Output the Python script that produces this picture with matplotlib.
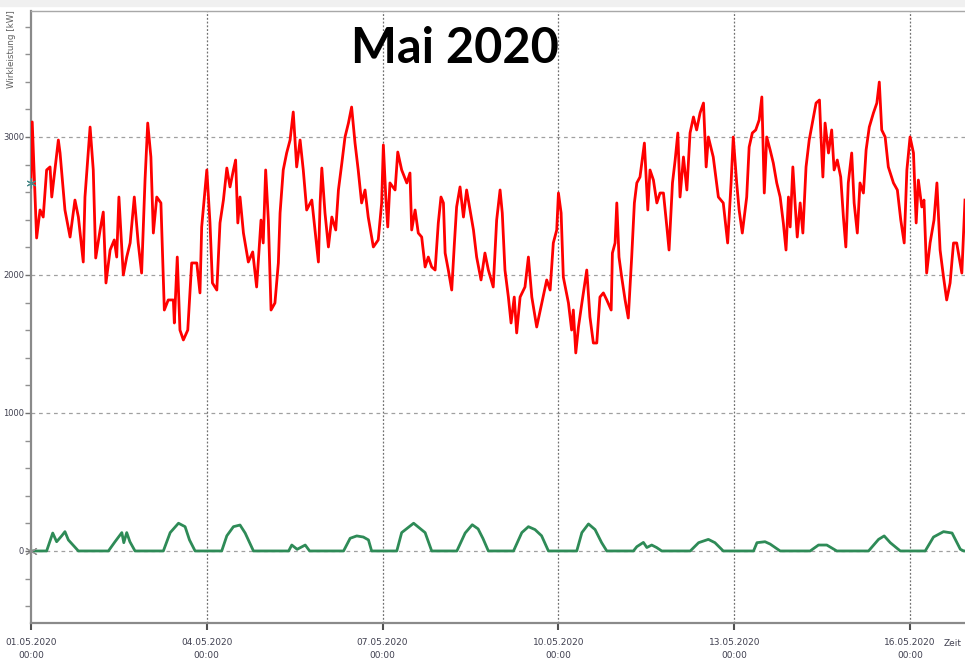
import matplotlib
matplotlib.use('Agg')
import matplotlib.pyplot as plt

# Wirkleistung (red), hours after 01.05.2020 00:00 and kW
red_hours = [0, 0.5, 2.3, 3.7, 5.0, 6.4, 7.8, 8.5, 9.8, 11.2, 11.9, 13.9, 16.0, 18.0, 19.4, 21.4, 22.1, 24.2,
             25.5, 26.5, 28.3, 29.6, 30.7, 32.4, 34.1, 35.1, 36.0, 37.8, 39.2, 40.6, 42.3, 43.9, 45.3, 46.7,
             47.8, 49.1, 50.1, 51.5, 53.2, 54.6, 56.2, 58.3, 58.7, 59.9, 61.0, 62.4, 64.2, 65.8, 67.9, 69.2,
             69.9, 72.0, 73.3, 74.3, 76.1,
             77.4, 78.8, 80.2, 81.5, 82.9, 83.8, 84.7, 85.6, 87.0, 89.0, 90.8, 92.4, 94.2, 95.1, 96.1, 97.2,
             98.3, 99.9, 101.3, 102.0, 103.3, 104.7, 106.1, 107.4, 108.8, 110.2, 111.5, 112.9, 115.0, 116.3,
             117.7, 118.4, 119.1, 120.4, 121.8, 123.2, 124.8, 125.9, 127.3, 128.6, 130.0, 131.3, 132.7, 134.0,
             135.4, 136.8, 138.1, 140.2, 142.2, 143.6, 144.3, 145.3, 146.1, 147.0, 149.1, 150.2, 151.8, 153.9,
             155.2, 155.9, 157.3, 158.6, 160.0, 161.4, 162.7, 164.1, 165.5, 166.8, 167.9, 168.9, 169.6, 170.9,
             172.3, 173.4, 174.3, 175.7, 177.1, 178.4, 179.8, 181.2, 182.5, 184.3, 185.9, 187.3, 189.3, 190.7,
             192.1, 193.0, 194.1, 195.5, 196.6, 197.9, 198.9, 200.3, 202.3, 203.7, 205.1, 207.1, 209.2, 211.2,
             212.6, 213.9, 215.3, 216.0, 217.1, 218.0, 220.1, 221.4, 222.1, 223.1, 224.2, 225.6, 227.6, 228.9,
             230.3, 231.7,
             233.0, 234.4, 235.8, 237.6, 238.1, 239.2, 239.9, 240.8, 241.9, 243.3, 244.6, 246.0, 247.1, 248.1,
             249.4, 251.2, 252.6, 253.5, 254.9, 256.3, 257.6, 259.0, 260.4, 261.3, 262.7, 263.8, 264.9, 265.8,
             267.2, 268.6, 269.9, 271.3, 272.6, 274.0, 275.4, 276.5, 277.4, 279.4, 281.5, 283.5, 285.3, 286.7,
             287.6, 289.0, 290.0, 291.3, 293.1, 294.1, 295.4, 296.8, 298.2, 299.3, 300.3, 301.3, 302.7, 304.0,
             305.4, 306.8,
             308.1, 309.2, 310.2, 310.9, 312.0, 312.9, 313.8, 315.0, 316.1, 317.4, 318.7, 320.2, 321.5, 322.9,
             323.4, 324.3, 325.2, 326.6, 327.9, 328.9, 330.2, 331.6, 332.7, 333.7, 334.7, 336.1, 337.1, 338.4,
             339.5, 340.9, 342.0, 343.3, 345.0, 346.4, 347.4, 348.4, 349.8, 351.1, 353.2, 354.8, 356.2, 357.6,
             358.7, 360.0, 361.4, 362.5, 363.4, 364.8, 365.7, 366.8, 368.2, 369.8, 371.0, 372.3, 373.7, 375.0,
             376.4, 377.8, 379.1, 381.2, 382.1, 382.5]
red_kw = [2667, 3109, 2268, 2471, 2420, 2761, 2783, 2565, 2761, 2978, 2884, 2471, 2275, 2543, 2420, 2094, 2565, 3072,
          2761, 2123, 2326, 2456, 1942, 2181, 2254, 2130, 2565, 2000, 2130, 2232, 2565, 2232, 2014, 2688,
          3101, 2855, 2304, 2565, 2522, 1746, 1819, 1819, 1652, 2130, 1601, 1529, 1601, 2087, 2087, 1870,
          2348, 2761, 2377, 1942, 1891,
          2377, 2543, 2775, 2638, 2761, 2833, 2377, 2565, 2304, 2094, 2167, 1913, 2398, 2232, 2761, 2398,
          1746, 1797, 2087, 2449, 2761, 2884, 2978, 3181, 2783, 2978, 2761, 2471, 2543, 2326,
          2094, 2522, 2775, 2449, 2203, 2420, 2326, 2616, 2811, 3000, 3101, 3217, 2956, 2761,
          2522, 2616, 2420, 2203, 2254, 2522, 2942, 2565, 2348, 2667, 2616, 2891, 2761, 2667,
          2739, 2326, 2471, 2304, 2275, 2058, 2130, 2058, 2036, 2377, 2565, 2522, 2159, 2036,
          1891, 2232, 2493, 2638, 2420, 2616, 2471, 2326, 2130, 1964, 2159, 2036, 1913, 2398,
          2616, 2449, 2036, 1840, 1652, 1840, 1580, 1840, 1913, 2130, 1840, 1623, 1797, 1964,
          1891, 2232, 2326, 2594, 2449, 1985, 1797, 1601, 1746, 1435, 1623, 1797, 2036, 1696,
          1507, 1507,
          1840, 1870, 1819, 1746, 2159, 2232, 2522, 2130, 1985, 1819, 1688, 2130, 2522, 2667,
          2710, 2956, 2471, 2761, 2688, 2522, 2594, 2594, 2348, 2181, 2667, 2833, 3029, 2565,
          2855, 2616, 3029, 3145, 3051, 3174, 3246, 2783, 3000, 2855, 2565, 2522, 2232, 2667,
          3000, 2667, 2471, 2304, 2565, 2927, 3029, 3051, 3123, 3290, 2594, 3000, 2906, 2811,
          2667, 2565,
          2377, 2181, 2565, 2348, 2783, 2522, 2275, 2522, 2304, 2783, 2978, 3123, 3246, 3268,
          3051, 2710, 3101, 2884, 3051, 2761, 2833, 2710, 2420, 2203, 2667, 2884, 2522, 2304,
          2667, 2594, 2906, 3072, 3174, 3246, 3398, 3051, 3000, 2783, 2667, 2616, 2398, 2232,
          2761, 3000, 2884, 2377, 2688, 2493, 2543, 2014, 2232, 2398, 2667, 2181, 1985, 1819,
          1942, 2232, 2232, 2014, 2377, 2543]

# PV feed-in (green)
pv_hours = [0, 6.4, 8.9, 10.5, 12.6, 13.9, 15.3, 19.4,
            31.7, 34.4, 37.2, 38.0, 39.2, 40.5, 42.6,
            54.2, 57.0, 60.4, 63.1, 64.9, 67.2,
            78.1, 80.2, 82.9, 85.6, 87.7, 91.1,
            105.5, 106.8, 109.0, 112.3, 114.1,
            128.0, 130.7, 133.4, 136.1, 138.2, 139.5,
            149.8, 151.8, 156.7, 161.4, 164.1,
            174.4, 177.8, 180.7, 183.1, 185.1, 187.3,
            197.6, 201.0, 203.7, 206.4, 209.1, 211.9,
            223.5, 225.6, 228.3, 231.0, 233.7, 235.8,
            246.7, 248.1, 250.8, 252.2, 254.2, 256.2, 258.3,
            270.0, 273.4, 277.4, 280.1, 283.5,
            295.9, 297.3, 300.6, 302.7, 306.8,
            319.1, 322.5, 325.9, 330.0,
            343.0, 347.1, 349.4, 351.9, 356.0,
            366.2, 369.6, 373.7, 377.2, 380.6, 382.0, 382.5]
pv_kw = [0, 0, 130, 67, 110, 140, 80, 0,
         0, 67, 133, 60, 133, 67, 0,
         0, 133, 201, 176, 80, 0,
         0, 110, 176, 188, 130, 0,
         0, 43, 12, 43, 0,
         0, 92, 109, 101, 80, 0,
         0, 133, 201, 133, 0,
         0, 130, 190, 160, 90, 0,
         0, 133, 176, 155, 110, 0,
         0, 133, 196, 155, 60, 0,
         0, 31, 62, 25, 43, 25, 0,
         0, 60, 84, 60, 0,
         0, 60, 67, 50, 0,
         0, 43, 43, 0,
         0, 84, 109, 60, 0,
         0, 101, 140, 130, 12, 0, 0]

tick_hours = [0, 72, 144, 216, 288, 360]
tick_labels = ['01.05.2020\n00:00', '04.05.2020\n00:00', '07.05.2020\n00:00',
               '10.05.2020\n00:00', '13.05.2020\n00:00', '16.05.2020\n00:00']
y_ticks = [0, 1000, 2000, 3000]
y_labels = ['0', '1000', '2000', '3000']

fig = plt.figure(figsize=(9.65, 6.63), dpi=100)
fig.patches.append(plt.Rectangle((0, 1 - 6 / 663), 1, 6 / 663, transform=fig.transFigure,
                                 color='#f0f0f0', zorder=0))
ax = fig.add_axes([31 / 965, 40 / 663, 934 / 965, 612 / 663])

ax.plot(red_hours, red_kw, color='#ff0000', lw=2.0, zorder=3)
ax.plot(pv_hours, pv_kw, color='#2e8b57', lw=2.0, zorder=3)
ax.plot([0], [0], marker=(6, 2, 0), ms=9, color='#909090', mew=0.8, clip_on=False, zorder=4)
ax.plot([0], [red_kw[0]], marker=(6, 2, 0), ms=7, color='#4a8a8a', mew=0.8, clip_on=False, zorder=4)

ax.set_xlim(0, 382.5)
ax.set_ylim(-522, 3913)
ax.set_xticks(tick_hours)
ax.set_xticklabels(tick_labels, fontsize=6.5, color='#404050', linespacing=1.6)
ax.set_yticks(y_ticks)
ax.set_yticklabels(y_labels, fontsize=6, color='#404050')
ax.set_yticks(range(-400, 3901, 200), minor=True)
ax.tick_params(axis='y', which='major', length=4, width=1, color='#707070', pad=1)
ax.tick_params(axis='y', which='minor', length=4, width=1, color='#909090')
ax.tick_params(axis='x', which='major', length=5, width=1.5, color='#505050', pad=6)

for yv in y_ticks:
    ax.axhline(yv, color='#a0a0a0', lw=0.9, ls=(0, (3, 3)), zorder=1)
for xv in tick_hours[1:]:
    ax.axvline(xv, color='#707070', lw=0.9, ls=(0, (1.5, 1.5)), zorder=1)

for side in ['left', 'bottom']:
    ax.spines[side].set_color('#8a8a8a')
    ax.spines[side].set_linewidth(1.6)
ax.spines['top'].set_color('#a8a8a8')
ax.spines['top'].set_linewidth(1.0)
ax.spines['right'].set_visible(False)

fig.text(12 / 965, 1 - 10 / 663, 'Wirkleistung [kW]', rotation=90, ha='center', va='top',
         fontsize=6.3, color='#606060')
fig.text(944 / 965, 1 - 643 / 663, 'Zeit', ha='left', va='center', fontsize=6.5, color='#404050')
fig.text(455 / 965, 1 - 63 / 663, 'Mai 2020', ha='center', va='baseline', fontsize=35,
         fontweight='bold', family='Lato', color='black')

fig.savefig('out.png', dpi=100)
